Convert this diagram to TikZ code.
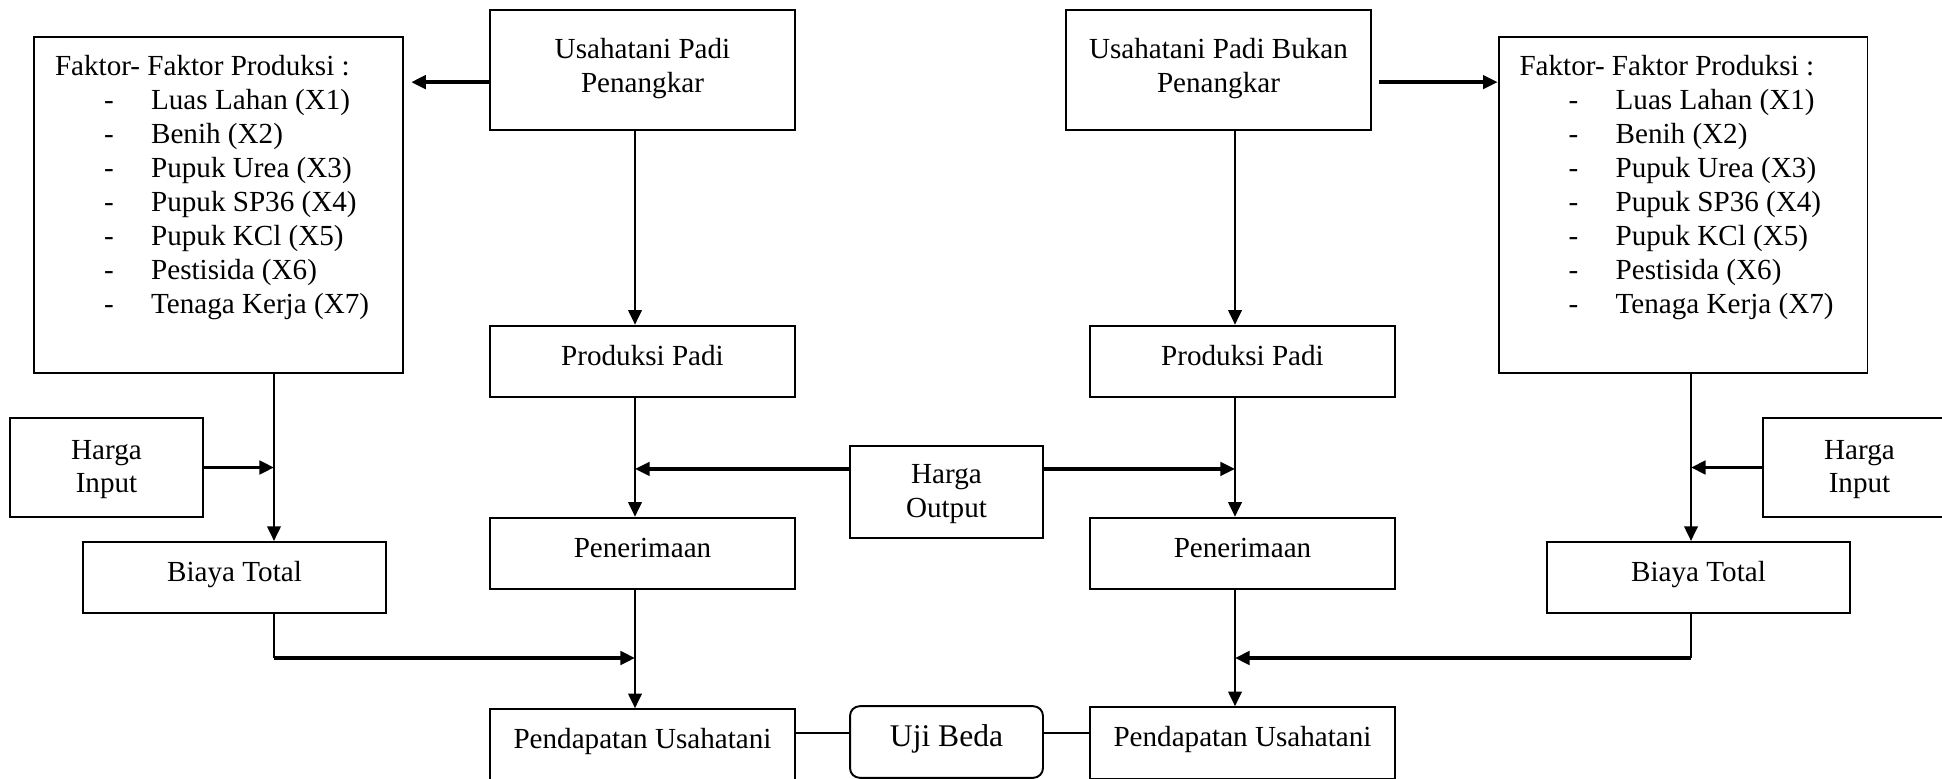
\documentclass[tikz,border=0pt]{standalone}
\usepackage{fontspec}
\setmainfont{Liberation Serif}
\usetikzlibrary{positioning, arrows.meta}

\newcommand{\fitem}[1]{\hspace*{20.2pt}\makebox[19.4pt][l]{-}#1}

\begin{document}
\begin{tikzpicture}[
    x=0.412pt, y=-0.412pt,
    every node/.style={font=\fontsize{12}{14}\selectfont},
    box/.style={rectangle, draw, line width=0.8pt, inner sep=0pt, minimum width=125.7pt, minimum height=29.5pt, text height=9pt, text depth=6pt},
    headbox/.style={box, align=center, minimum height=49.4pt, text height=24.2pt, text depth=6pt},
    pricebox/.style={box, align=center, minimum width=79.5pt, minimum height=40.8pt, text height=27pt, text depth=6pt},
    listbox/.style={rectangle, draw, line width=0.8pt, inner sep=0pt, minimum width=152pt, minimum height=138.4pt},
    testbox/.style={box, rounded corners=4pt, minimum width=79.5pt, font=\fontsize{13}{15}\selectfont, text height=9.5pt, text depth=6pt},
    arr/.style={-{Triangle[length=6pt, width=5.5pt]}, line width=1pt},
    harr/.style={arr, line width=1.4pt}
]
    \clip (0,0) rectangle (1942,779);

    % Usahatani
    \node[headbox] (usahaL) at (642.5,70) {Usahatani Padi\\Penangkar};
    \node[headbox] (usahaR) at (1218.5,70) {Usahatani Padi Bukan\\Penangkar};

    % Faktor produksi
    \node[listbox] (factL) at (218.5,205) {\begin{tabular}{@{}p{134.7pt}@{}}
        Faktor- Faktor Produksi :\\
        \fitem{Luas Lahan (X1)}\\
        \fitem{Benih (X2)}\\
        \fitem{Pupuk Urea (X3)}\\
        \fitem{Pupuk SP36 (X4)}\\
        \fitem{Pupuk KCl (X5)}\\
        \fitem{Pestisida (X6)}\\
        \fitem{Tenaga Kerja (X7)}\\[14.6pt]
    \end{tabular}};
    \node[listbox] (factR) at (1683,205) {\begin{tabular}{@{}p{134.7pt}@{}}
        Faktor- Faktor Produksi :\\
        \fitem{Luas Lahan (X1)}\\
        \fitem{Benih (X2)}\\
        \fitem{Pupuk Urea (X3)}\\
        \fitem{Pupuk SP36 (X4)}\\
        \fitem{Pupuk KCl (X5)}\\
        \fitem{Pestisida (X6)}\\
        \fitem{Tenaga Kerja (X7)}\\[14.6pt]
    \end{tabular}};

    % Produksi, penerimaan, pendapatan
    \node[box] (prodL) at (642.5,361.5) {Produksi Padi};
    \node[box] (prodR) at (1242.5,361.5) {Produksi Padi};
    \node[box] (terimaL) at (642.5,553.5) {Penerimaan};
    \node[box] (terimaR) at (1242.5,553.5) {Penerimaan};
    \node[box] (dapatL) at (642.5,745) {Pendapatan Usahatani};
    \node[box] (dapatR) at (1242.5,743) {Pendapatan Usahatani};

    % Harga dan biaya
    \node[pricebox] (inputL) at (106.5,467.5) {Harga\\Input};
    \node[pricebox] (inputR) at (1859.5,467.5) {Harga\\Input};
    \node[pricebox, minimum height=37.9pt] (output) at (946.5,492) {Harga\\Output};
    \node[box, minimum width=124.8pt, minimum height=29.3pt] (biayaL) at (234.5,577.5) {Biaya Total};
    \node[box, minimum width=124.8pt, minimum height=29.3pt] (biayaR) at (1698.5,577.5) {Biaya Total};

    % Uji beda
    \node[testbox] (uji) at (946.5,742) {Uji Beda};

    % flow lines
    \coordinate (colL) at (635,0);
    \coordinate (colR) at (1235,0);
    \coordinate (sumL) at (274,658);
    \coordinate (sumR) at (1691,658);

    \draw[harr, shorten >=3pt] ([yshift=-5pt]usahaL.west) -- ([yshift=-5pt]usahaL.west -| factL.east);
    \draw[harr, shorten <=3pt] ([yshift=-5pt]usahaR.east) -- ([yshift=-5pt]usahaR.east -| factR.west);

    \draw[arr] (usahaL.south -| colL) -- (prodL.north -| colL);
    \draw[arr] (prodL.south -| colL) -- (terimaL.north -| colL);
    \draw[arr] (terimaL.south -| colL) -- (dapatL.north -| colL);
    \draw[arr] (usahaR.south -| colR) -- (prodR.north -| colR);
    \draw[arr] (prodR.south -| colR) -- (terimaR.north -| colR);
    \draw[arr] (terimaR.south -| colR) -- (dapatR.north -| colR);

    \draw[arr] (factL.south -| sumL) -- (biayaL.north -| sumL);
    \draw[arr] (factR.south -| sumR) -- (biayaR.north -| sumR);

    \draw[harr] (inputL.east) -- (inputL.east -| sumL);
    \draw[harr] (inputR.west) -- (inputR.west -| sumR);
    \draw[harr] ([yshift=9.5pt]output.west) -- ([yshift=9.5pt]output.west -| colL);
    \draw[harr] ([yshift=9.5pt]output.east) -- ([yshift=9.5pt]output.east -| colR);

    \draw[line width=0.8pt] (biayaL.south -| sumL) -- (sumL);
    \draw[harr] (sumL) -- (sumL -| colL);
    \draw[line width=0.8pt] (biayaR.south -| sumR) -- (sumR);
    \draw[harr] (sumR) -- (sumR -| colR);

    \draw[line width=0.8pt] ([yshift=3.7pt]uji.west) -- ([yshift=3.7pt]uji.west -| dapatL.east);
    \draw[line width=0.8pt] ([yshift=3.7pt]uji.east) -- ([yshift=3.7pt]uji.east -| dapatR.west);
\end{tikzpicture}
\end{document}
